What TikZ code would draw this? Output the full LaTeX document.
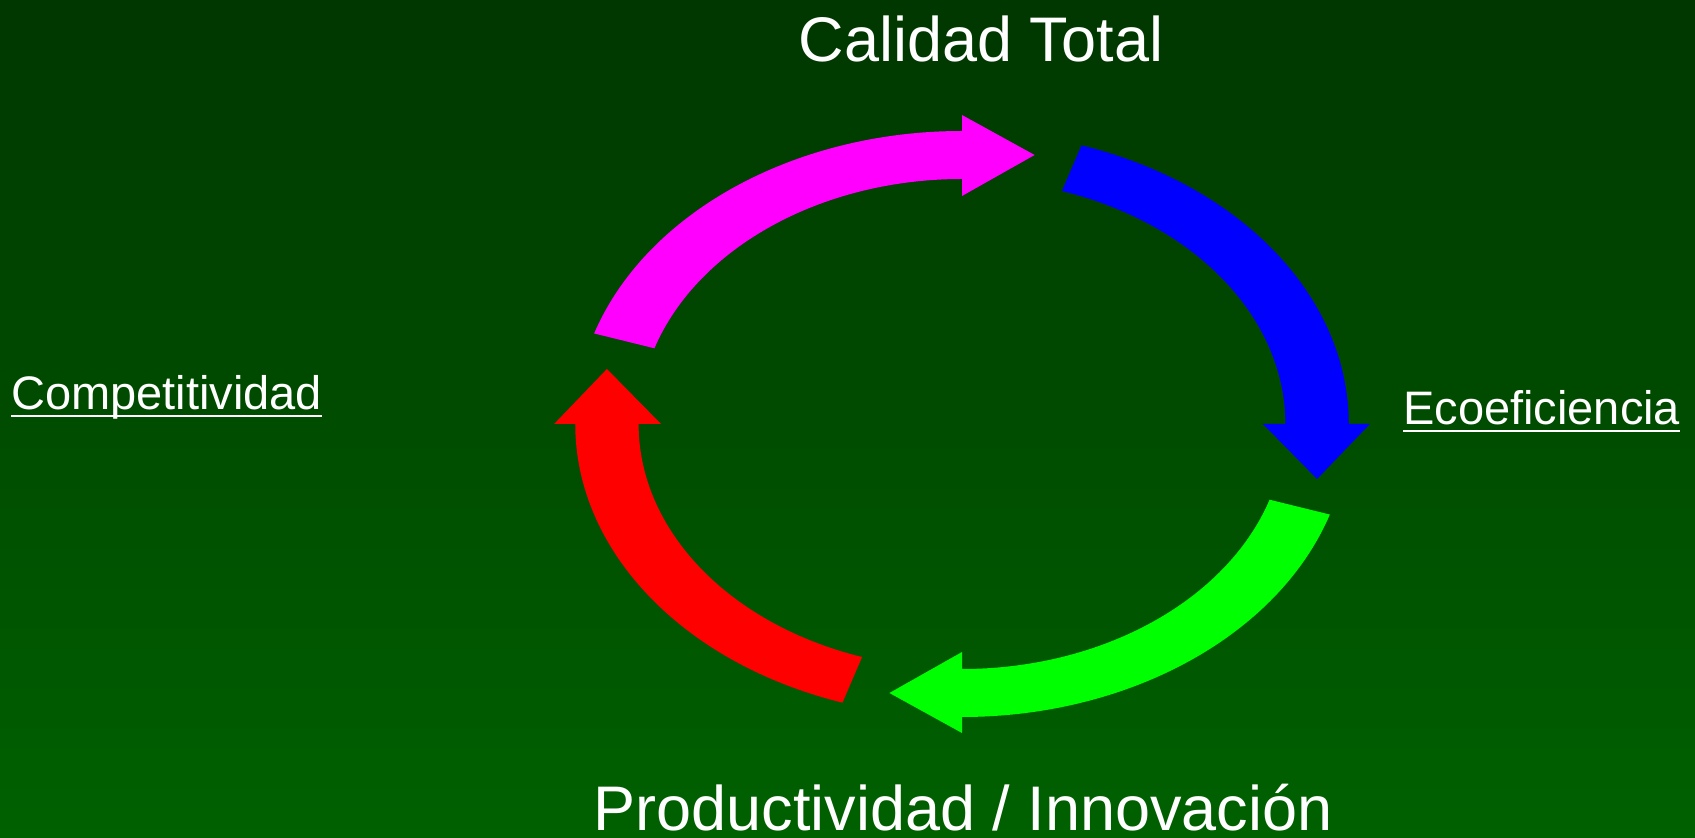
\documentclass[tikz,border=0pt]{standalone}
\usepackage{fontspec}
\setmainfont{Liberation Sans}
\definecolor{bgtop}{RGB}{0,55,0}
\definecolor{bgbottom}{RGB}{0,97,0}
\definecolor{arrmag}{RGB}{255,0,255}
\definecolor{arrblue}{RGB}{0,0,255}
\definecolor{arrgreen}{RGB}{0,255,0}
\definecolor{arrred}{RGB}{255,0,0}
\begin{document}
\begin{tikzpicture}[x=1pt,y=1pt,
				every node/.style={text=white,inner sep=0pt},
				big/.style={font=\fontsize{63}{70}\selectfont},
				small/.style={font=\fontsize{47}{54}\selectfont},
				underl/.style={draw=white,line width=2pt}]
\useasboundingbox (0,0) rectangle (1695,838);
\shade[top color=bgtop,bottom color=bgbottom] (0,0) rectangle (1695,838);
% labels
\node[big,anchor=base] (calidad) at (981,776) {Calidad Total};
\node[big,anchor=base] (producti) at (963,7) {Productividad / Innovación};
\node[small,anchor=base west] (compet) at (11,428) {Competitividad};
\node[small,anchor=base west] (ecoef) at (1403,413) {Ecoeficiencia};
\draw[underl] ([yshift=-6pt]compet.base west) -- ([yshift=-6pt]compet.base east);
\draw[underl] ([yshift=-6pt]ecoef.base west) -- ([yshift=-6pt]ecoef.base east);
% cycle of arrows
\begin{scope}[shift={(962,414)},xscale=1.32]
\foreach \tail/\col [evaluate=\tail as \head using \tail-72] in {162/arrmag,72/arrblue,-18/arrgreen,-108/arrred}
	\fill[\col] (\tail:293) arc[start angle=\tail,end angle=\head,radius=293]
		-- (\head:309) -- ([shift={(\head-90:55)}]\head:269) -- (\head:228)
		-- (\head:245) arc[start angle=\head,end angle=\tail,radius=245] -- cycle;
\end{scope}
\end{tikzpicture}
\end{document}
